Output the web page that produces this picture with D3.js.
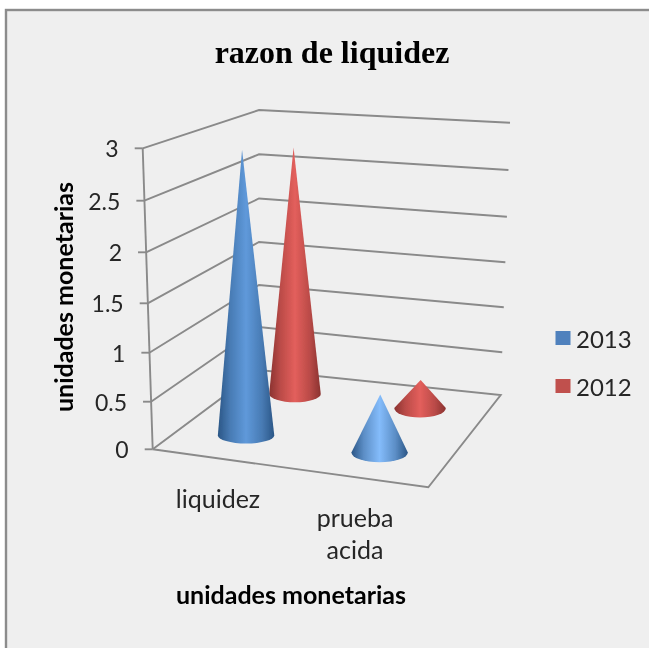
<!DOCTYPE html>
<html><head><meta charset="utf-8">
<script src="https://cdnjs.cloudflare.com/ajax/libs/d3/7.8.5/d3.min.js"></script>
<style>html,body{margin:0;padding:0;background:#fff;overflow:hidden}svg{display:block}</style>
</head><body><svg id="c" width="649" height="648"></svg>
<script>
const chartTitle = "razon de liquidez";
const yAxisTitle = "unidades monetarias";
const xAxisTitle = "unidades monetarias";
const categories = [["liquidez"], ["prueba", "acida"]];
const seriesNames = ["2013", "2012"];
const values2013 = [2.95, 0.6];
const values2012 = [2.73, 0.31];
const yTicks = [0, 0.5, 1, 1.5, 2, 2.5, 3];

const svg = d3.select("#c");
const defs = svg.append("defs");
defs.append("filter").attr("id","soft").append("feGaussianBlur").attr("stdDeviation",0.5);
defs.append("filter").attr("id","softer").append("feGaussianBlur").attr("stdDeviation",0.3);
const FONT = "Lato, 'Open Sans', sans-serif";
const GRID = "#8a8a8a";

svg.append("rect").attr("x",6).attr("y",10).attr("width",700).attr("height",700)
  .attr("fill","#efefef").attr("stroke","#8c8c8c").attr("stroke-width",2.4);

// projection: value -> y on the three wall edges
const frontY = d3.scaleLinear().domain(yTicks).range([449.3,401.7,352.7,303.3,252.3,200.7,148.3]);
const frontX = d3.scaleLinear().domain([0,3]).range([152.7,142.7]);
const backY  = d3.scaleLinear().domain(yTicks).range([370,327,285,242,198.5,154.3,110]);
const rightY = d3.scaleLinear().domain(yTicks).range([395,352.3,307.3,262.3,216.7,170,122.7]);
const rightX = d3.scaleLinear().domain([0,3]).range([500.7,510]);
const backX  = 259;

// floor
const FL=[152.7,449.3], FR=[428.3,487.3], BR=[500.7,395], BL=[backX,370];
function floorPt(u,v){
  const f=d3.interpolateArray(FL,FR)(u), b=d3.interpolateArray(BL,BR)(u);
  return d3.interpolateArray(f,b)(v);
}
const uScale = d3.scalePoint().domain(d3.range(categories.length)).range([0.25,0.75]);
const vScale = d3.scalePoint().domain(d3.range(seriesNames.length)).range([0.25,0.75]);
const ppu = d3.scaleLinear().domain([0,1]).range([100,87]);
const rxScale = d3.scaleLinear().domain([0.25,0.75]).range([28.2,25.8]);
const ryScale = d3.scaleLinear().domain([0.25,0.75]).range([8.4,9.6]);

const walls = svg.append("g").attr("fill","none").attr("stroke",GRID).attr("stroke-width",1.9).attr("filter","url(#softer)");
const line = d3.line();
walls.selectAll("path.g").data(yTicks.slice(1)).join("path").attr("class","g")
  .attr("d",d=>line([[frontX(d),frontY(d)],[backX,backY(d)],[rightX(d),rightY(d)]]));
walls.append("path").attr("d",line([[frontX(3),frontY(3)],FL]));
walls.append("path").attr("d",line([FL,FR,BR,BL,FL]));
walls.selectAll("path.t").data(yTicks).join("path").attr("class","t")
  .attr("d",d=>line([[frontX(d)-8,frontY(d)],[frontX(d),frontY(d)]]));

// gradients & cones
const palette = [
 {edge:"#2b5686",mid:"#5f99da",bright:"#84bcfb"},
 {edge:"#8a3230",mid:"#e35f5c",bright:"#e8625e"}
];
const cones=[];
[values2013,values2012].forEach((vals,s)=>vals.forEach((val,c)=>cones.push({s,c,val})));
cones.sort((a,b)=>b.s-a.s);
cones.forEach((d,i)=>{
  const u=uScale(d.c), v=vScale(d.s);
  const [cx,cy0]=floorPt(u,v);
  const cy=cy0-3;
  const rx=rxScale(v), ry=ryScale(u);
  const ax=cx-(d.c===0?(d.s===0?4:1.4):-0.6), ay=cy-d.val*ppu(v);
  const col=palette[d.s];
  const midC=(d.s===0&&d.c===1)?col.bright:col.mid;
  const g=defs.append("linearGradient").attr("id","cone"+i).attr("x1",0).attr("x2",1).attr("y1",0).attr("y2",0);
  const blend=d3.interpolateRgb(col.edge,midC);
  [[0,col.edge],[0.22,blend(0.55)],[0.5,midC],[0.78,blend(0.55)],[1,col.edge]]
    .forEach(([o,c])=>g.append("stop").attr("offset",o).attr("stop-color",c));
  svg.append("path")
    .attr("d",`M${ax},${ay}L${cx-rx},${cy}A${rx},${ry} 0 0 0 ${cx+rx},${cy}Z`)
    .attr("fill",`url(#cone${i})`).attr("filter","url(#soft)");
});

// text
const txt=(x,y,s,size,opt={})=>svg.append("text").attr("x",x).attr("y",y).text(s)
  .attr("font-family",opt.family||FONT).attr("font-size",size).attr("font-weight",opt.weight||"normal")
  .attr("text-anchor",opt.anchor||"middle").attr("dominant-baseline","central").attr("fill",opt.fill||"#262626")
  .attr("filter","url(#softer)");

txt(332,52,chartTitle,32,{family:"'Liberation Serif', serif",weight:"bold",fill:"#000"});
yTicks.forEach(d=>txt(frontX(d)-24,frontY(d),String(d),23,{anchor:"end"}));
const catPos=[[218,[498]],[355,[517,549]]];
categories.forEach((lines,i)=>lines.forEach((l,j)=>txt(catPos[i][0],catPos[i][1][j],l,25)));
txt(291,594,xAxisTitle,25,{weight:"bold",fill:"#000"});
txt(0,0,yAxisTitle,25,{weight:"bold",fill:"#000"}).attr("transform","translate(63,297) rotate(-90)");

// legend
const legY=d3.scalePoint().domain(seriesNames).range([338,386]);
const legFill=d3.scaleOrdinal().domain(seriesNames).range(["#4f81bd","#c0504d"]);
seriesNames.forEach(n=>{
  svg.append("rect").attr("x",555.5).attr("y",legY(n)-7).attr("width",15).attr("height",14).attr("fill",legFill(n));
  txt(576,legY(n),n,24,{anchor:"start"});
});
</script></body></html>
